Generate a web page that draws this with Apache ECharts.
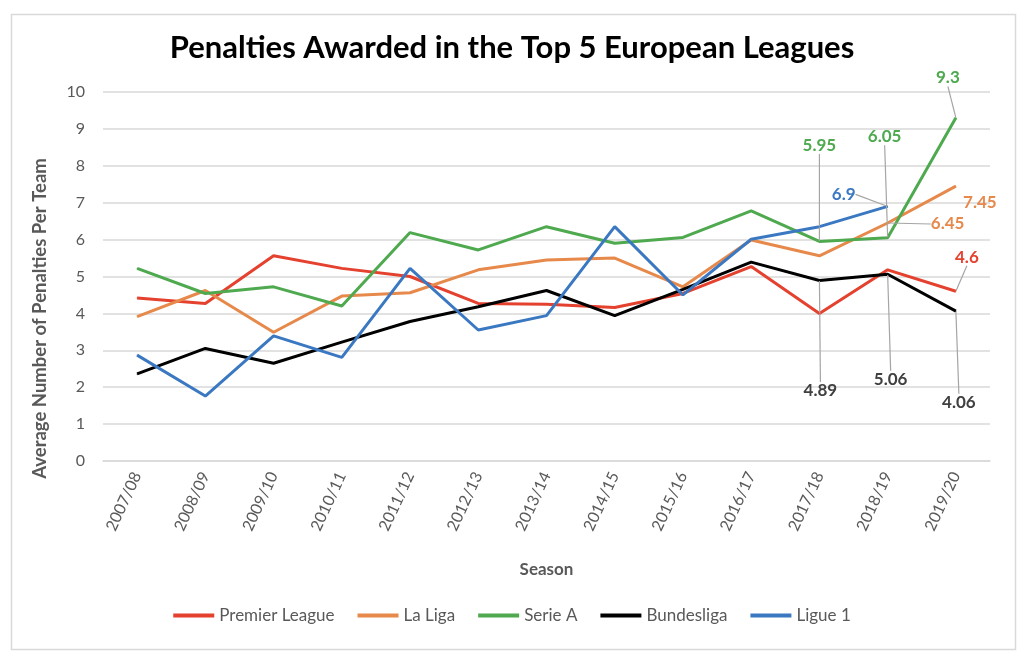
<!DOCTYPE html>
<html><head><meta charset="utf-8">
<script src="https://cdn.jsdelivr.net/npm/echarts@6/dist/echarts.min.js"></script>
<style>html,body{margin:0;padding:0;background:#fff}#c{width:1024px;height:661px}</style>
</head><body><div id="c"></div>
<script>
const seasons = ['2007/08','2008/09','2009/10','2010/11','2011/12','2012/13','2013/14','2014/15','2015/16','2016/17','2017/18','2018/19','2019/20'];
const premierLeague = [4.42, 4.27, 5.56, 5.22, 5.0, 4.27, 4.25, 4.16, 4.54, 5.27, 4.0, 5.18, 4.6];
const laLiga = [3.91, 4.62, 3.49, 4.47, 4.56, 5.18, 5.45, 5.5, 4.72, 5.99, 5.56, 6.45, 7.45];
const serieA = [5.22, 4.54, 4.72, 4.2, 6.19, 5.72, 6.35, 5.9, 6.06, 6.78, 5.95, 6.05, 9.3];
const bundesliga = [2.36, 3.05, 2.65, 3.22, 3.78, 4.18, 4.62, 3.94, 4.65, 5.39, 4.89, 5.06, 4.06];
const ligue1 = [2.87, 1.76, 3.39, 2.81, 5.22, 3.55, 3.94, 6.35, 4.5, 6.01, 6.35, 6.9, null];
const yMin = 0, yMax = 10, yStep = 1;

const FONT = 'Lato';
const GREY = '#595959';
// which points carry a data label, and where the label sits relative to its point (styling)
const labelPlacement = {
  'Premier League': {12: [11, -34, true]},
  'La Liga': {11: [60, 1, true], 12: [24, 16, false]},
  'Serie A': {10: [0, -96, true], 11: [-3, -101, true], 12: [-8, -40, true]},
  'Bundesliga': {10: [1, 110, true], 11: [3, 105, true], 12: [3, 91, true]},
  'Ligue 1': {11: [-44, -12, true]}
};
const seriesDefs = [
  {name: 'Premier League', values: premierLeague, color: '#E4412F', labelColor: '#E4412F'},
  {name: 'La Liga', values: laLiga, color: '#E6894B', labelColor: '#E6894B'},
  {name: 'Serie A', values: serieA, color: '#4EA94F', labelColor: '#4EA94F'},
  {name: 'Bundesliga', values: bundesliga, color: '#000000', labelColor: '#404040'},
  {name: 'Ligue 1', values: ligue1, color: '#3B78C2', labelColor: '#3B78C2'}
];

const chart = echarts.init(document.getElementById('c'), null, {renderer: 'canvas'});
chart.setOption({
  animation: false,
  backgroundColor: '#fff',
  textStyle: {fontFamily: FONT},
  graphic: [{
    type: 'rect', left: 9, top: 12, silent: true,
    shape: {width: 1004, height: 635},
    style: {fill: 'none', stroke: '#D9D9D9', lineWidth: 1.5}
  }],
  title: {
    text: 'Penalties Awarded in the Top 5 European Leagues',
    left: 'center', top: 27,
    textStyle: {fontFamily: FONT, fontWeight: 'bold', fontSize: 31, color: '#000'}
  },
  legend: {
    bottom: 32, left: 'center',
    icon: 'rect', itemWidth: 41, itemHeight: 4, itemGap: 23,
    textStyle: {fontFamily: FONT, fontSize: 17, color: GREY},
    data: seriesDefs.map(s => s.name)
  },
  grid: {left: 103, right: 34, top: 92, bottom: 200},
  xAxis: {
    type: 'category', data: seasons, boundaryGap: true,
    name: 'Season', nameLocation: 'middle', nameGap: 100,
    nameTextStyle: {fontFamily: FONT, fontWeight: 'bold', fontSize: 17, color: GREY},
    axisLine: {show: true, lineStyle: {color: '#D9D9D9', width: 1.5}},
    axisTick: {show: false},
    axisLabel: {rotate: 65, margin: 12, fontFamily: FONT, fontSize: 16, color: GREY, interval: 0}
  },
  yAxis: {
    type: 'value', min: yMin, max: yMax, interval: yStep,
    name: 'Average Number of Penalties Per Team', nameLocation: 'middle', nameGap: 53, nameRotate: 90,
    nameTextStyle: {fontFamily: FONT, fontWeight: 'bold', fontSize: 18.5, color: GREY, padding: [0, 84, 0, 0]},
    axisLine: {show: false}, axisTick: {show: false},
    splitLine: {lineStyle: {color: '#D9D9D9', width: 1.5}},
    axisLabel: {margin: 18, fontFamily: FONT, fontSize: 16, color: GREY}
  },
  series: seriesDefs.map(s => {
    const place = labelPlacement[s.name] || {};
    return {
      name: s.name, type: 'line',
      data: s.values.map((v, i) => place[i] ? {value: v, label: {show: true}, labelLine: {show: place[i][2]}} : v),
      symbol: 'circle', symbolSize: 1, showSymbol: true,
      lineStyle: {color: s.color, width: 3},
      itemStyle: {color: s.color},
      connectNulls: false,
      label: {show: false, position: 'inside', fontFamily: FONT, fontWeight: 'bold', fontSize: 17, color: s.labelColor, formatter: p => String(p.value)},
      labelLine: {show: true, lineStyle: {color: '#A5A5A5', width: 1.2}},
      labelLayout: params => {
        const o = place[params.dataIndex];
        return o ? {dx: o[0], dy: o[1]} : {};
      },
      emphasis: {disabled: true}
    };
  })
});
</script></body></html>
